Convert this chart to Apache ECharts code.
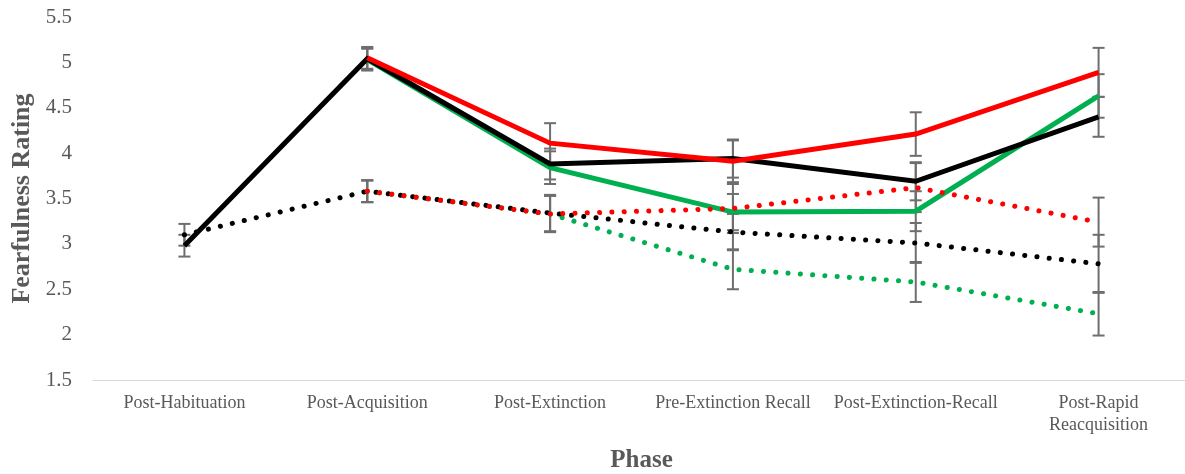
<!DOCTYPE html>
<html>
<head>
<meta charset="utf-8">
<title>Fearfulness Rating by Phase</title>
<script src="https://cdn.jsdelivr.net/npm/echarts@6/dist/echarts.min.js"></script>
<style>
  html, body { margin: 0; padding: 0; background: #fff; overflow: hidden; }
  #chart { width: 1185px; height: 474px; }
</style>
</head>
<body>
<div id="chart"></div>
<script>
// Phases on the x axis
const categories = [
  'Post-Habituation', 'Post-Acquisition', 'Post-Extinction',
  'Pre-Extinction Recall', 'Post-Extinction-Recall', 'Post-Rapid\nReacquisition'
];
const yTicks = { min: 1.5, max: 5.5, interval: 0.5 };

// Mean ratings (null = not measured in that phase)
const blackSolid  = [2.98, 5.04, 3.88, 3.94, 3.69, 4.40];
const redSolid    = [null, 5.05, 4.11, 3.91, 4.21, 4.89];
const greenSolid  = [null, 5.03, 3.84, 3.35, 3.36, 4.63];
const blackDotted = [3.10, 3.58, 3.34, 3.13, 3.01, 2.78];
const redDotted   = [null, 3.58, 3.33, 3.39, 3.62, 3.24];
const greenDotted = [null, 3.58, 3.33, 2.72, 2.58, 2.23];

// Standard errors
const blackSolidErr  = [0.12, 0.12, 0.17, 0.21, 0.21, 0.22];
const redSolidErr    = [null, 0.12, 0.22, 0.23, 0.24, 0.27];
const greenSolidErr  = [null, 0.12, 0.18, 0.20, 0.22, 0.24];
const blackDottedErr = [0.12, 0.12, 0.20, 0.20, 0.22, 0.32];
const redDottedErr   = [null, 0.12, 0.20, 0.27, 0.27, 0.27];
const greenDottedErr = [null, 0.12, 0.20, 0.22, 0.22, 0.24];

const FONT = "'Liberation Serif', 'Times New Roman', serif";
const TEXT = '#595959';
const BLACK = '#000000', RED = '#ff0000', GREEN = '#00b050';

function errorData(values, errs) {
  const out = [];
  values.forEach((v, i) => {
    if (v != null && errs[i] != null) out.push([i, v - errs[i], v + errs[i]]);
  });
  return out;
}

function errorSeries(values, errs) {
  return {
    type: 'custom',
    z: 1,
    silent: true,
    data: errorData(values, errs),
    encode: { x: 0, y: [1, 2] },
    renderItem: function (params, api) {
      const lo = api.coord([api.value(0), api.value(1)]);
      const hi = api.coord([api.value(0), api.value(2)]);
      const half = 6;
      const style = { stroke: '#6e6e6e', lineWidth: 2, fill: null };
      return {
        type: 'group',
        children: [
          { type: 'line', shape: { x1: lo[0], y1: lo[1], x2: hi[0], y2: hi[1] }, style: style },
          { type: 'line', shape: { x1: lo[0] - half, y1: lo[1], x2: lo[0] + half, y2: lo[1] }, style: style },
          { type: 'line', shape: { x1: hi[0] - half, y1: hi[1], x2: hi[0] + half, y2: hi[1] }, style: style }
        ]
      };
    }
  };
}

function lineSeries(name, values, color, dotted, z) {
  return {
    name: name,
    type: 'line',
    data: values,
    z: z,
    symbol: 'none',
    connectNulls: false,
    lineStyle: dotted
      ? { color: color, width: 5, type: [0.1, 12.2], cap: 'round' }
      : { color: color, width: 5, cap: 'butt', join: 'miter' },
    emphasis: { disabled: true },
    animation: false
  };
}

const chart = echarts.init(document.getElementById('chart'), null, { renderer: 'canvas' });

chart.setOption({
  animation: false,
  backgroundColor: '#ffffff',
  grid: {
    left: 93, top: 17, width: 1097, bottom: 94,
    containLabel: false,
    outerBoundsMode: 'none'
  },
  xAxis: {
    type: 'category',
    data: categories,
    boundaryGap: true,
    name: 'Phase',
    nameLocation: 'middle',
    nameGap: 68,
    nameTextStyle: { fontFamily: FONT, fontSize: 25, fontWeight: 'bold', color: TEXT },
    axisLine: { show: true, lineStyle: { color: '#d9d9d9', width: 1 } },
    axisTick: { show: false },
    axisLabel: {
      interval: 0,
      margin: 12,
      fontFamily: FONT, fontSize: 18, color: TEXT, lineHeight: 22, align: 'center'
    },
    splitLine: { show: false }
  },
  yAxis: {
    type: 'value',
    min: yTicks.min,
    max: yTicks.max,
    interval: yTicks.interval,
    name: 'Fearfulness Rating',
    nameLocation: 'middle',
    nameGap: 57,
    nameRotate: 90,
    nameTextStyle: { fontFamily: FONT, fontSize: 26, fontWeight: 'bold', color: TEXT },
    axisLine: { show: false },
    axisTick: { show: false },
    splitLine: { show: false },
    axisLabel: {
      margin: 21,
      fontFamily: FONT, fontSize: 21, color: TEXT,
      formatter: function (v) { return String(Math.round(v * 10) / 10); }
    }
  },
  series: [
    errorSeries(greenSolid, greenSolidErr),
    errorSeries(blackSolid, blackSolidErr),
    errorSeries(redSolid, redSolidErr),
    errorSeries(greenDotted, greenDottedErr),
    errorSeries(blackDotted, blackDottedErr),
    errorSeries(redDotted, redDottedErr),
    lineSeries('Green (solid)', greenSolid, GREEN, false, 2),
    lineSeries('Black (solid)', blackSolid, BLACK, false, 3),
    lineSeries('Red (solid)', redSolid, RED, false, 4),
    lineSeries('Green (dotted)', greenDotted, GREEN, true, 5),
    lineSeries('Black (dotted)', blackDotted, BLACK, true, 6),
    lineSeries('Red (dotted)', redDotted, RED, true, 7)
  ]
});
</script>
</body>
</html>
